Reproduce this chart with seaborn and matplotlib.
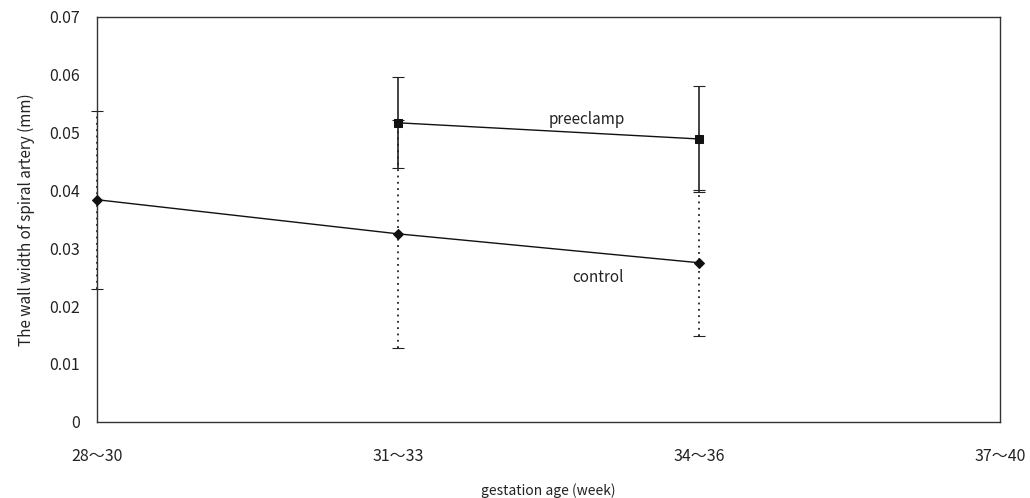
import matplotlib
matplotlib.use("Agg")
import matplotlib.pyplot as plt
import numpy as np
import pandas as pd
import seaborn as sns

# gestation age groups (x axis)
AGE_GROUPS = ["28～30", "31～33", "34～36", "37～40"]

# control: groups 0..2
CONTROL_POS = [0, 1, 2]
CONTROL_MEAN = [0.0384, 0.0325, 0.0275]
CONTROL_SD = [0.0154, 0.0197, 0.0126]

# preeclamp: groups 1..2
PRE_POS = [1, 2]
PRE_MEAN = [0.0517, 0.0489]
PRE_SD = [0.0079, 0.0092]

Y_TICKS = [0, 0.01, 0.02, 0.03, 0.04, 0.05, 0.06, 0.07]


def main():
    sns.set_style("white")
    plt.rcParams["font.family"] = ["Noto Sans CJK JP", "DejaVu Sans"]
    fig, ax = plt.subplots(figsize=(10.3, 4.98), dpi=100)
    fig.subplots_adjust(left=0.094, right=0.971, bottom=0.153, top=0.966)

    df_c = pd.DataFrame({"x": CONTROL_POS, "y": CONTROL_MEAN})
    df_p = pd.DataFrame({"x": PRE_POS, "y": PRE_MEAN})

    # error bars first so points sit on top
    ebc = ax.errorbar(CONTROL_POS, CONTROL_MEAN, yerr=CONTROL_SD, fmt="none",
                      ecolor="#222222", elinewidth=1.3, capsize=4,
                      capthick=0.8, clip_on=False, zorder=2)
    for lc in ebc[2]:
        lc.set_linestyle((0, (1, 2.5)))
    ax.errorbar(PRE_POS, PRE_MEAN, yerr=PRE_SD, fmt="none",
                ecolor="#222222", elinewidth=1.2, capsize=4,
                capthick=0.8, clip_on=False, zorder=3)

    sns.lineplot(data=df_c, x="x", y="y", ax=ax, color="#111111", lw=1.0,
                 marker="D", markersize=5, markeredgecolor="#111111",
                 clip_on=False, zorder=4)
    sns.lineplot(data=df_p, x="x", y="y", ax=ax, color="#111111", lw=1.0,
                 marker="s", markersize=6, markeredgecolor="#111111",
                 clip_on=False, zorder=4)

    ax.text(1.5, 0.0508, "preeclamp", fontsize=11, ha="left", va="bottom",
            color="#222222")
    ax.text(1.58, 0.0235, "control", fontsize=11, ha="left", va="bottom",
            color="#222222")

    ax.set_xlim(0, 3)
    ax.set_ylim(0, 0.07)
    ax.set_xticks(range(len(AGE_GROUPS)))
    ax.set_xticklabels(AGE_GROUPS)
    ax.set_yticks(Y_TICKS)
    ax.set_yticklabels(["0"] + [f"{v:.2f}" for v in Y_TICKS[1:]])
    ax.tick_params(axis="both", direction="in", length=4, width=0.8,
                   labelsize=11.5, colors="#222222", pad=12)
    ax.tick_params(axis="x", pad=19)

    for s in ax.spines.values():
        s.set_color("#333333")
        s.set_linewidth(1.0)

    ax.set_xlabel("gestation age (week)", fontsize=10, color="#222222",
                  labelpad=13)
    ax.set_ylabel("The wall width of spiral artery (mm)", fontsize=11,
                  color="#222222", labelpad=10)

    fig.savefig("out.png", dpi=100)


if __name__ == "__main__":
    main()
